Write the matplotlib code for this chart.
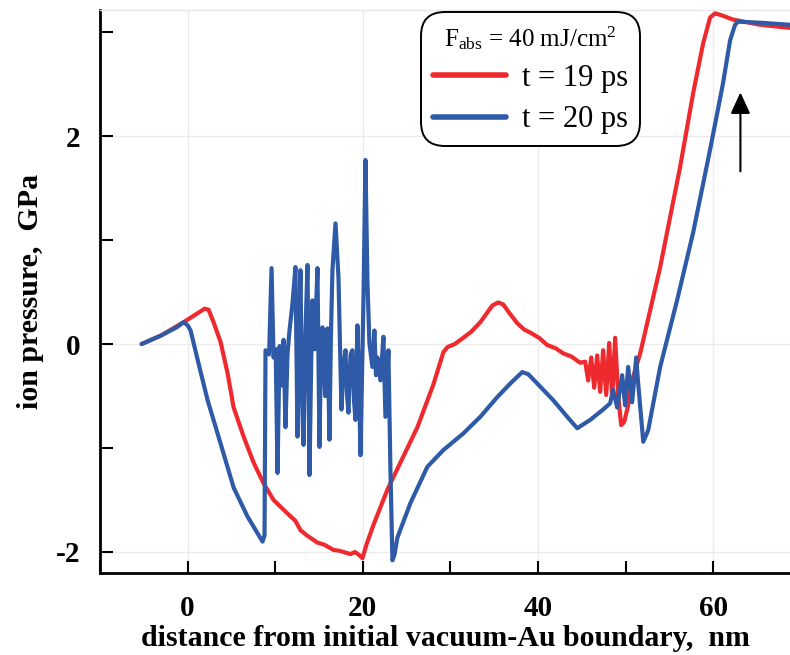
import matplotlib
matplotlib.use("Agg")
import matplotlib.pyplot as plt

plt.rcParams["font.family"] = ["Liberation Serif", "DejaVu Serif"]
plt.rcParams["mathtext.fontset"] = "custom"
plt.rcParams["mathtext.rm"] = "Liberation Serif"
plt.rcParams["mathtext.it"] = "Liberation Serif:italic"

# pressure profile at t = 19 ps
x19 = [-5.25, -3.08, -0.46, 1.03, 1.94, 2.39, 2.96, 3.76, 4.56, 5.25, 6.39, 7.53,
       8.67, 9.81, 11.40, 12.30, 12.88, 13.60, 14.82, 15.60, 16.65, 17.40, 18.59,
       19.10, 19.73, 19.95, 20.41, 21.21, 22.81, 24.29, 26.23, 28.05, 29.19, 29.65,
       30.50, 31.47, 32.40, 33.41, 34.78, 35.46, 36.03, 36.80, 37.63, 38.40, 39.11,
       40.10, 41.05, 42.00, 42.87, 43.80, 44.81, 45.38, 45.72, 46.07, 46.41, 46.75,
       47.09, 47.43, 47.78, 48.12, 48.46, 48.80, 49.14, 49.49, 49.83, 50.29, 50.74,
       51.66, 53.94, 56.21, 57.70, 58.84, 59.64, 60.21, 61.00, 62.26, 65.34, 68.76]
p19 = [0.00, 0.08, 0.21, 0.29, 0.34, 0.33, 0.21, 0.02, -0.28, -0.61, -0.89, -1.14,
       -1.34, -1.50, -1.63, -1.70, -1.79, -1.84, -1.91, -1.93, -1.98, -1.99, -2.02,
       -2.00, -2.04, -2.06, -1.93, -1.74, -1.40, -1.14, -0.80, -0.39, -0.08, -0.03,
       0.00, 0.06, 0.12, 0.21, 0.37, 0.40, 0.38, 0.29, 0.20, 0.14, 0.11,
       0.06, -0.01, -0.04, -0.09, -0.12, -0.18, -0.17, -0.35, -0.13, -0.42, -0.11,
       -0.46, -0.06, -0.49, 0.01, -0.52, 0.06, -0.49, -0.78, -0.75, -0.59, -0.35,
       -0.09, 0.74, 1.70, 2.41, 2.89, 3.14, 3.18, 3.16, 3.12, 3.07, 3.04]

# pressure profile at t = 20 ps
x20 = [-5.25, -3.08, -1.25, -0.46, 0.00, 0.34, 1.14, 2.28, 3.42, 5.25, 6.84, 8.55,
       8.78, 8.89, 9.30, 9.58, 9.81, 10.05, 10.26, 10.50, 10.70, 10.95, 11.17,
       11.40, 11.63, 11.97, 12.31, 12.54, 12.70, 12.88, 13.05, 13.23, 13.45, 13.68,
       13.91, 14.10, 14.25, 14.50, 14.82, 15.05, 15.22, 15.39, 15.70, 15.96, 16.19,
       16.35, 16.53, 16.88, 17.22, 17.56, 17.80, 18.02, 18.20, 18.36, 18.60, 18.81,
       19.00, 19.16, 19.38, 19.55, 19.73, 20.07, 20.30, 20.52, 20.75, 21.09, 21.32,
       21.50, 21.66, 22.01, 22.35, 22.58, 22.92, 23.15, 23.38, 23.60, 23.95, 25.43,
       27.37, 29.19, 31.47, 33.41, 35.35, 36.83, 38.20, 38.88, 39.91, 41.73, 43.33,
       44.47, 45.95, 47.43, 48.23, 48.57, 49.03, 49.60, 49.94, 50.29, 50.74, 51.20,
       51.43, 52.01, 52.57, 53.94, 55.87, 57.70, 59.64, 61.12, 61.92, 62.49, 62.83,
       65.34, 68.76]
p20 = [0.00, 0.08, 0.16, 0.21, 0.18, 0.13, -0.15, -0.54, -0.86, -1.38, -1.66, -1.90,
       -1.84, -0.06, -0.10, 0.73, -0.13, -0.05, -1.24, -0.02, -0.40, 0.04, -0.80,
       -0.10, 0.13, 0.39, 0.74, -0.89, 0.00, 0.71, -0.50, -0.97, 0.10, 0.76,
       -1.26, -0.20, 0.42, -0.05, 0.73, -0.99, -0.10, 0.16, -0.50, 0.15, -0.92,
       0.05, 0.71, 1.16, 0.64, -0.63, -0.20, -0.06, -0.50, -0.66, -0.10, -0.06,
       -0.55, -0.73, 0.18, -0.30, -1.07, 0.42, 1.77, 0.62, 0.01, -0.22, 0.13,
       -0.30, -0.13, -0.35, 0.07, -0.70, -0.06, -1.21, -2.08, -2.03, -1.86, -1.53,
       -1.18, -1.02, -0.86, -0.70, -0.51, -0.38, -0.27, -0.29, -0.38, -0.54, -0.70,
       -0.81, -0.73, -0.63, -0.57, -0.44, -0.61, -0.30, -0.59, -0.22, -0.56, -0.13,
       -0.38, -0.94, -0.83, -0.22, 0.42, 1.07, 1.87, 2.51, 2.92, 3.07, 3.10,
       3.09, 3.07]

labels = ["t = 19 ps", "t = 20 ps"]
colors = ["#ee2a2f", "#2e5aa7"]
legend_title = r"F$_{\mathrm{abs}}$ = 40 mJ/cm$^{2}$"

fig = plt.figure(figsize=(7.9, 6.55), dpi=100)
ax = fig.add_axes([0.1266, 0.1252, 0.8734, 0.8595])

ax.plot(x19, p19, color=colors[0], lw=3.0, solid_capstyle="round",
        solid_joinstyle="round", label=labels[0], zorder=3)
ax.plot(x20, p20, color=colors[1], lw=3.0, solid_capstyle="round",
        solid_joinstyle="round", label=labels[1], zorder=4)

ax.set_xlim(-9.92, 68.76)
ax.set_ylim(-2.202, 3.212)

ax.set_xticks([0, 20, 40, 60])
ax.set_xticks([-10, 10, 30, 50], minor=True)
ax.set_yticks([-2, 0, 2])
ax.set_yticks([-1, 1, 3], minor=True)
ax.set_xticklabels(["0", "20", "40", "60"])
ax.set_yticklabels(["-2", "0", "2"])

ax.tick_params(which="both", direction="in", length=9, width=1.5, color="black")
ax.tick_params(axis="x", which="major", pad=16, labelsize=21)
ax.tick_params(axis="y", which="major", pad=14, labelsize=21)
for lab in ax.get_xticklabels() + ax.get_yticklabels():
    lab.set_fontweight("bold")

ax.grid(True, which="major", color="#ececec", lw=1.0, zorder=0)
ax.set_axisbelow(True)

for side in ["left", "bottom"]:
    ax.spines[side].set_linewidth(2.0)
    ax.spines[side].set_color("black")
ax.spines["top"].set_color("#e6e6e6")
ax.spines["top"].set_linewidth(1.0)
ax.spines["right"].set_visible(False)

ax.set_xlabel("distance from initial vacuum-Au boundary,  nm", fontsize=21.5,
              fontweight="bold", labelpad=2)
ax.set_ylabel("ion pressure,  GPa", fontsize=21.5, fontweight="bold", labelpad=9)

leg = ax.legend(loc="upper left", bbox_to_anchor=(0.465, 0.997), title=legend_title,
                fontsize=22, title_fontsize=18, frameon=True, fancybox=True,
                handlelength=2.4, handletextpad=0.5, borderpad=0.4,
                labelspacing=0.4, borderaxespad=0.0,
                edgecolor="black", facecolor="white", framealpha=1.0)
frame = leg.get_frame()
frame.set_boxstyle("round,pad=0.0,rounding_size=0.8")
frame.set_linewidth(1.4)
for ln in leg.get_lines():
    ln.set_linewidth(4.0)

ax.annotate("", xy=(63.1, 2.42), xytext=(63.1, 1.66),
            arrowprops=dict(arrowstyle="-|>,head_length=1.3,head_width=0.6",
                            color="black", lw=1.5, shrinkA=0, shrinkB=0))

fig.savefig("out.png", dpi=100)
